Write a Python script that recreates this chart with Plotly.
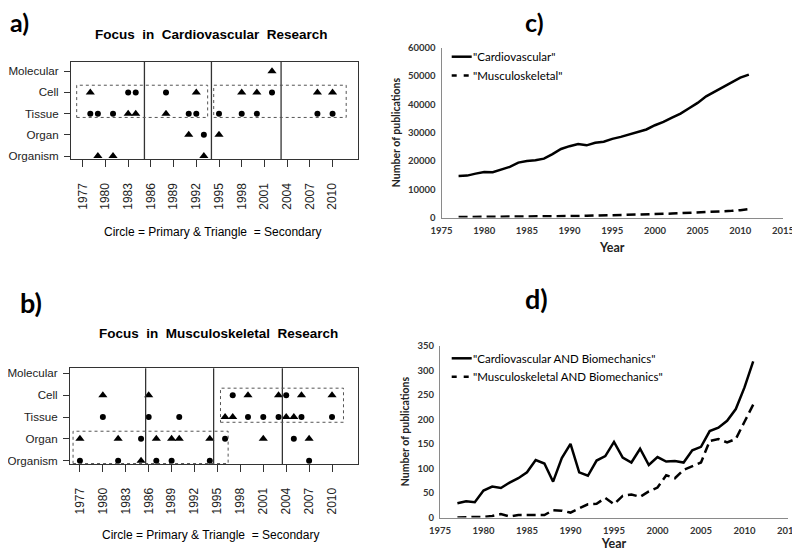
import plotly.graph_objects as go

# ---------------- data ----------------
levels = ["Organism", "Organ", "Tissue", "Cell", "Molecular"]
tick_years_ab = [1977, 1980, 1983, 1986, 1989, 1992, 1995, 1998, 2001, 2004, 2007, 2010]

# Panel a: Focus in Cardiovascular Research
a_primary_years = [1983, 1984, 1988, 2002,
                   1978, 1979, 1981, 1991, 1992, 1995, 1998, 2000, 2008, 2010,
                   1993]
a_primary_levels = ["Cell"] * 4 + ["Tissue"] * 10 + ["Organ"]
a_secondary_years = [2002,
                     1978, 1992, 1998, 2000, 2008, 2010,
                     1983, 1984, 1988,
                     1991, 1995,
                     1979, 1981, 1993]
a_secondary_levels = ["Molecular"] + ["Cell"] * 6 + ["Tissue"] * 3 + ["Organ"] * 2 + ["Organism"] * 3
a_dividers = [1985.15, 1994.0, 2003.2]
a_boxes = [(1976.2, 1993.5, 1.82, 3.34), (1994.3, 2011.8, 1.82, 3.34)]

# Panel b: Focus in Musculoskeletal Research
b_primary_years = [1997, 2004,
                   1980, 1986, 1990, 1999, 2001, 2003, 2006, 2010,
                   1985, 1996, 2005,
                   1977, 1982, 1987, 1989, 1994, 2007]
b_primary_levels = ["Cell"] * 2 + ["Tissue"] * 8 + ["Organ"] * 3 + ["Organism"] * 6
b_secondary_years = [1980, 1986, 1999, 2003, 2006, 2010,
                     1996, 1997, 2004, 2005,
                     1977, 1982, 1987, 1989, 1990, 1994, 2001, 2007,
                     1985]
b_secondary_levels = ["Cell"] * 6 + ["Tissue"] * 4 + ["Organ"] * 8 + ["Organism"]
b_dividers = [1985.6, 1994.5, 2003.5]
b_boxes = [(1976.1, 1996.4, -0.13, 1.35), (1995.4, 2011.5, 1.76, 3.32)]

# Panels c and d
years = list(range(1977, 2012))
cardio = [14700, 14800, 15500, 16100, 16000, 16900, 17900, 19400, 20000, 20200,
          20800, 22400, 24200, 25200, 26000, 25500, 26400, 26800, 27800, 28500,
          29300, 30100, 31100, 32600, 33800, 35300, 36700, 38600, 40500, 42800,
          44500, 45900, 47600, 49400, 50500]
musculo = [150, 160, 180, 200, 210, 230, 250, 270, 300, 320,
           340, 380, 420, 480, 540, 600, 650, 700, 760, 820,
           900, 1000, 1100, 1200, 1300, 1400, 1500, 1650, 1850, 2000,
           2100, 2250, 2350, 2600, 2950]
cardio_bio = [29, 33, 31, 55, 63, 60, 71, 80, 92, 117,
              110, 73, 121, 150, 92, 85, 116, 125, 154, 122,
              112, 140, 107, 123, 114, 115, 112, 137, 144, 176,
              183, 197, 221, 265, 318]
musculo_bio = [0, 1, 1, 1, 3, 7, 2, 5, 5, 5,
               5, 15, 14, 10, 18, 27, 28, 40, 27, 44,
               47, 42, 53, 61, 86, 80, 97, 104, 112, 156,
               160, 153, 160, 195, 230]

# ---------------- figure ----------------
# the page body keeps its default 8px margin: the figure is made 8px smaller
# and page-pixel positions are converted to figure fractions accordingly
OFF = 8
W, H = 800 - OFF, 551 - OFF
def px(x):
    return (x - OFF) / W
def py(y):
    return 1 - (y - OFF) / H

ARIAL = "Liberation Sans"
CAL = "Lato"
DASH = "9px,5px"

fig = go.Figure()

def add_scatter(xs, ys, sym, size, xa, ya):
    fig.add_trace(go.Scatter(x=xs, y=ys, mode="markers", xaxis=xa, yaxis=ya,
                             marker=dict(symbol=sym, size=size, color="black"),
                             showlegend=False, hoverinfo="x+y"))

add_scatter(a_primary_years, a_primary_levels, "circle", 6, "x", "y")
add_scatter(a_secondary_years, a_secondary_levels, "triangle-up", 8, "x", "y")
add_scatter(b_primary_years, b_primary_levels, "circle", 6, "x2", "y2")
add_scatter(b_secondary_years, b_secondary_levels, "triangle-up", 8, "x2", "y2")

fig.add_trace(go.Scatter(x=years, y=cardio, mode="lines", xaxis="x3", yaxis="y3",
                         line=dict(color="black", width=2.5), name='"Cardiovascular"', showlegend=False))
fig.add_trace(go.Scatter(x=years, y=musculo, mode="lines", xaxis="x3", yaxis="y3",
                         line=dict(color="black", width=2.5, dash=DASH), name='"Musculoskeletal"', showlegend=False))
fig.add_trace(go.Scatter(x=years, y=cardio_bio, mode="lines", xaxis="x4", yaxis="y4",
                         line=dict(color="black", width=2.5), name='"Cardiovascular AND Biomechanics"', showlegend=False))
fig.add_trace(go.Scatter(x=years, y=musculo_bio, mode="lines", xaxis="x4", yaxis="y4",
                         line=dict(color="black", width=2.5, dash=DASH), name='"Musculoskeletal AND Biomechanics"', showlegend=False))

shapes = []
for xa, ya, divs, boxes in (("x", "y", a_dividers, a_boxes), ("x2", "y2", b_dividers, b_boxes)):
    for d in divs:
        shapes.append(dict(type="line", xref=xa, yref=ya + " domain", x0=d, x1=d, y0=0, y1=1,
                           line=dict(color="#333333", width=1.3)))
    for (x0, x1, y0, y1) in boxes:
        shapes.append(dict(type="rect", xref=xa, yref=ya, x0=x0, x1=x1, y0=y0, y1=y1,
                           line=dict(color="#555555", width=1, dash="dot")))

# manual legends (c, d)
def legend_item(y, text, dash):
    shapes.append(dict(type="line", xref="paper", yref="paper", x0=px(451.7), x1=px(471.7),
                       y0=py(y), y1=py(y), line=dict(color="black", width=2.5, dash=dash)))
    return dict(x=px(471), y=py(y), xref="paper", yref="paper", text=text, showarrow=False,
                xanchor="left", yanchor="middle", font=dict(family=CAL, size=11.5, color="black"))

annotations = []
annotations.append(legend_item(56.7, '"Cardiovascular"', "solid"))
annotations.append(legend_item(75.5, '"Musculoskeletal"', "5px,7px"))
annotations.append(legend_item(358.3, '"Cardiovascular AND Biomechanics"', "solid"))
annotations.append(legend_item(376.7, '"Musculoskeletal AND Biomechanics"', "5px,7px"))

def ann(x, y, text, size, family, bold=False, xanchor="center"):
    annotations.append(dict(x=px(x), y=py(y), xref="paper", yref="paper", text=text, showarrow=False,
                            xanchor=xanchor, yanchor="middle",
                            font=dict(family=family, size=size, color="black",
                                      weight="bold" if bold else "normal")))

ann(8, 22, "a)", 25, CAL, True, "left")
ann(18, 302, "b)", 27, CAL, True, "left")
ann(523, 22, "c)", 25, CAL, True, "left")
ann(523, 298, "d)", 27, CAL, True, "left")
ann(211.7, 35, "Focus\u00a0\u00a0in\u00a0\u00a0Cardiovascular\u00a0\u00a0Research", 13.5, ARIAL, True)
ann(218, 333.3, "Focus\u00a0\u00a0in\u00a0\u00a0Musculoskeletal\u00a0\u00a0Research", 13.5, ARIAL, True)
ann(213, 231.7, "Circle = Primary & Triangle\u00a0 = Secondary", 12, ARIAL)
ann(210.7, 535, "Circle = Primary & Triangle\u00a0 = Secondary", 12, ARIAL)

cat_x = dict(tickmode="array", tickvals=tick_years_ab, ticktext=[str(t) for t in tick_years_ab],
             tickangle=-90, ticks="outside", ticklen=7, tickcolor="#333333",
             showline=True, mirror=True, linecolor="#333333", linewidth=1,
             showgrid=False, zeroline=False, ticklabelstandoff=11, automargin=False,
             tickfont=dict(family=ARIAL, size=12, color="#222222"))
cat_y = dict(type="category", categoryorder="array", categoryarray=levels,
             ticks="outside", ticklen=6, tickcolor="#333333",
             showline=True, mirror=True, linecolor="#333333", linewidth=1,
             showgrid=False, zeroline=False, ticklabelstandoff=3, automargin=False,
             tickfont=dict(family=ARIAL, size=11.6, color="#222222"))

line_x = dict(range=[1975, 2015], dtick=5, tick0=1975, showline=True, linecolor="#8a8a8a",
              linewidth=1, showgrid=False, zeroline=False, ticks="", automargin=False,
              ticklabelstandoff=4,
              tickfont=dict(family=CAL, size=9.5, color="#333333", weight="bold"),
              title=dict(text="Year", font=dict(family=CAL, size=12.5, color="#222222", weight="bold"),
                         standoff=8))
line_y = dict(showline=True, linecolor="#8a8a8a", linewidth=1, showgrid=False, zeroline=False,
              ticks="", automargin=False, tickformat="d", ticklabelstandoff=3,
              tickfont=dict(family=CAL, size=9.5, color="#333333", weight="bold"),
              title=dict(text="Number of publications",
                         font=dict(family=CAL, size=10.5, color="#222222", weight="bold"), standoff=5))

fig.update_layout(
    width=W, height=H, margin=dict(l=0, r=0, t=0, b=0, autoexpand=False),
    paper_bgcolor="white", plot_bgcolor="white", showlegend=False,
    xaxis=dict(cat_x, domain=[px(71), px(358.3)], range=[1975.45, 2013.4], anchor="y"),
    yaxis=dict(cat_y, domain=[py(159.3), py(61.7)], range=[-0.155, 4.45], anchor="x"),
    xaxis2=dict(cat_x, domain=[px(70), px(358)], range=[1975.7, 2013.4], anchor="y2"),
    yaxis2=dict(cat_y, domain=[py(464), py(368.3)], range=[-0.15, 4.23], anchor="x2"),
    xaxis3=dict(line_x, domain=[px(441.5), px(783)], anchor="y3"),
    yaxis3=dict(line_y, domain=[py(217.5), py(47.7)], range=[0, 60000], dtick=10000, anchor="x3"),
    xaxis4=dict(line_x, domain=[px(440), px(788)], anchor="y4"),
    yaxis4=dict(line_y, domain=[py(517.5), py(345.7)], range=[0, 350], dtick=50, anchor="x4"),
    shapes=shapes, annotations=annotations,
)

fig.write_html("out.html")
